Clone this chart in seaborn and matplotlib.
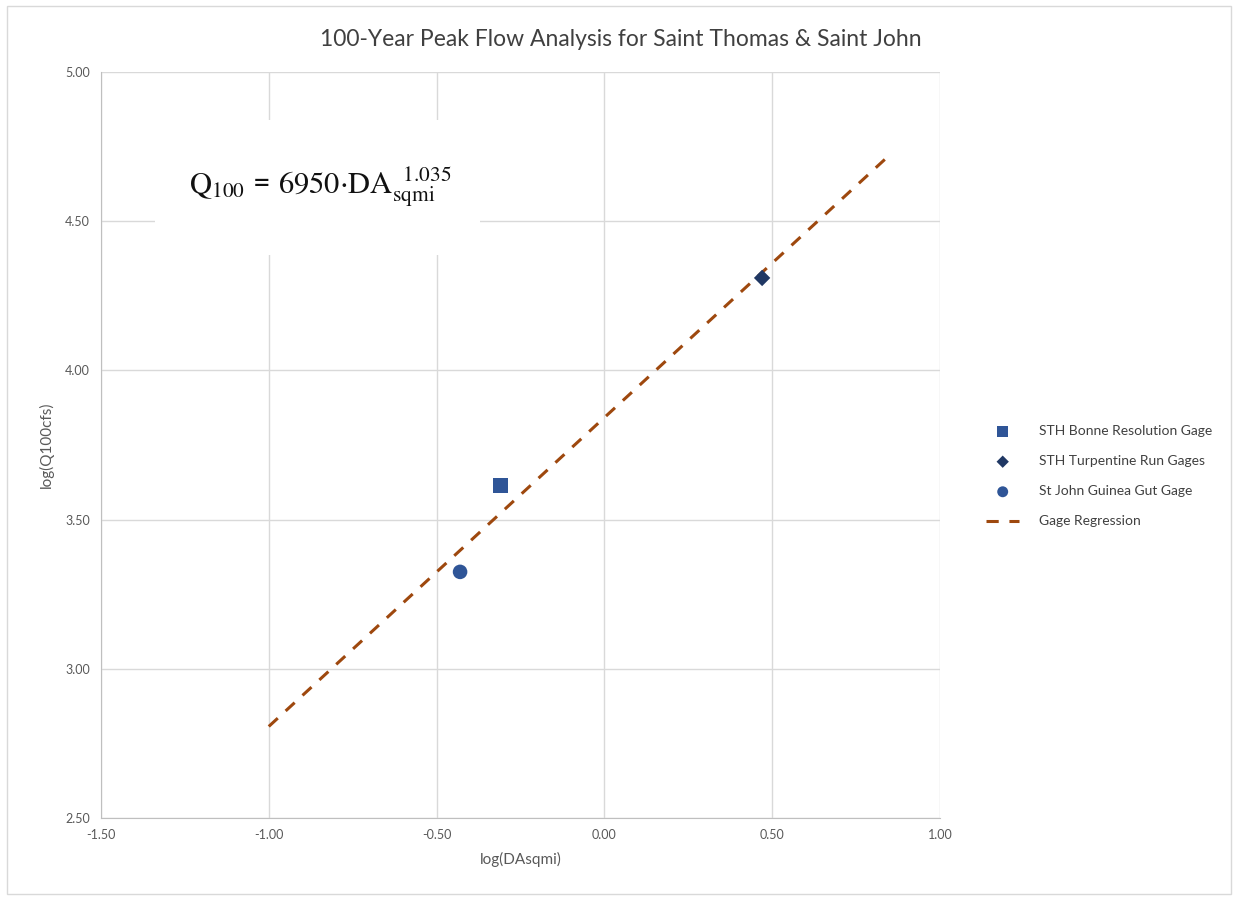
import matplotlib
matplotlib.use('Agg')
import matplotlib.pyplot as plt
import seaborn as sns
import pandas as pd

# gauge data (log10 drainage area, log10 Q100)
gages = ['STH Bonne Resolution Gage', 'STH Turpentine Run Gages', 'St John Guinea Gut Gage']
log_da = [-0.31, 0.47, -0.43]
log_q = [3.615, 4.31, 3.325]
markers = ['s', 'D', 'o']
colors = ['#2F5597', '#203864', '#2F5597']
sizes = [110, 70, 110]

# regression line endpoints
reg_x = [-1.00, 0.85]
reg_y = [2.807, 4.722]

x_ticks = [-1.5, -1.0, -0.5, 0.0, 0.5, 1.0]
y_ticks = [2.5, 3.0, 3.5, 4.0, 4.5, 5.0]

sns.set_style('white')
plt.rcParams['font.family'] = ['Lato', 'DejaVu Sans']
plt.rcParams['mathtext.fontset'] = 'stix'

fig = plt.figure(figsize=(12.36, 8.97), dpi=100)
ax = fig.add_axes([0.0817, 0.088, 0.6788, 0.8317])

df = pd.DataFrame({'gage': gages, 'x': log_da, 'y': log_q})
for i, row in df.iterrows():
    sns.scatterplot(x=[row['x']], y=[row['y']], marker=markers[i], color=colors[i],
                    s=sizes[i], edgecolor='none', label=row['gage'], ax=ax, zorder=4)

sns.lineplot(x=reg_x, y=reg_y, color='#9E480E', linewidth=2.2, linestyle=(0, (4, 3.5)),
             label='Gage Regression', ax=ax, zorder=3)

ax.set_xlim(-1.5, 1.0)
ax.set_ylim(2.5, 5.0)
ax.set_xticks(x_ticks)
ax.set_yticks(y_ticks)
ax.set_xticklabels([f'{t:.2f}' for t in x_ticks])
ax.set_yticklabels([f'{t:.2f}' for t in y_ticks])
ax.tick_params(colors='#595959', labelsize=9, length=0, pad=8)
ax.grid(True, color='#D9D9D9', linewidth=1)
ax.set_axisbelow(True)
for s in ['top', 'right']:
    ax.spines[s].set_visible(False)
for s in ['left', 'bottom']:
    ax.spines[s].set_color('#BFBFBF')

ax.set_xlabel('log(DAsqmi)', color='#595959', fontsize=11, labelpad=8)
ax.set_ylabel('log(Q100cfs)', color='#595959', fontsize=11, labelpad=8)
fig.suptitle('100-Year Peak Flow Analysis for Saint Thomas & Saint John',
             x=0.502, y=0.968, fontsize=16.5, color='#404040')

# white box behind the equation
ax.add_patch(plt.Rectangle((-1.339, 4.387), 0.968, 0.452, facecolor='white',
                           edgecolor='none', zorder=4.5))
ax.text(-0.847, 4.615, r'$\mathrm{Q}_{100}$ = $6950{\cdot}\mathrm{DA}_{\mathrm{sqmi}}^{\ \ 1.035}$',
        fontsize=22, ha='center', va='center', color='#111111', zorder=5)

leg = ax.legend(loc='center left', bbox_to_anchor=(1.04, 0.458), frameon=False,
                fontsize=10, labelcolor='#404040', handlelength=2.4, labelspacing=1.3,
                handletextpad=1.4, markerscale=0.75)

fig.patches.append(plt.Rectangle((0.006, 0.003), 0.99, 0.99, transform=fig.transFigure,
                                 fill=False, edgecolor='#D9D9D9', linewidth=1))

fig.savefig('out.png', dpi=100)
